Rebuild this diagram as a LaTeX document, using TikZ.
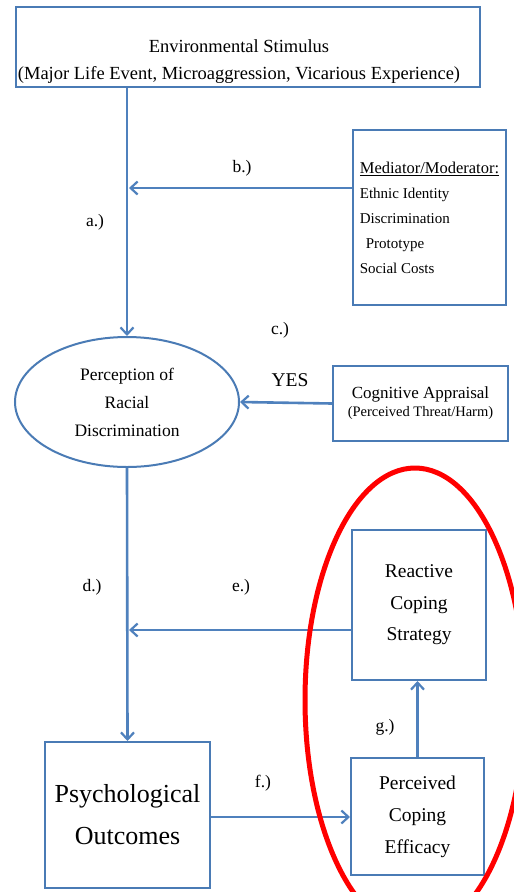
\documentclass[tikz,border=0pt]{standalone}
\usepackage{fontspec}
\setmainfont{Liberation Serif}
\usetikzlibrary{arrows.meta,shapes.geometric}
\definecolor{lineblue}{HTML}{4F81BD}
\definecolor{boxblue}{HTML}{4A7BB5}
\newcommand{\fs}[2]{\fontsize{#1}{#2}\selectfont}
\tikzset{
  boxnode/.style={draw=boxblue, line width=2pt, fill=white, inner sep=0pt, align=center},
  conn/.style={draw=lineblue, line width=2.6pt,
    -{Straight Barb[length=7pt,width=13pt,line width=2.2pt]}},
  lbl/.style={inner sep=0pt, font=\fs{17.5}{20}}
}
\begin{document}
\begin{tikzpicture}[x=1pt,y=-1pt]
  \useasboundingbox (0,0) rectangle (514,892);
  \clip (0,0) rectangle (514,892);
  \fill[white] (0,0) rectangle (514,892);

  % boxes
  \node[boxnode, minimum width=464pt, minimum height=80pt] (stim) at (248,47) {};
  \node[inner sep=0pt, align=center, font=\fs{18.5}{27}] (stimtxt) at (239,62)
    {Environmental Stimulus\\(Major Life Event, Microaggression, Vicarious Experience)};

  \node[boxnode, minimum width=153pt, minimum height=175pt, align=left,
        font=\fs{15}{25}] (med) at (429.5,217.5)
    {{\fs{16.5}{25}\underline{Mediator/Moderator:}}\\Ethnic Identity\\Discrimination\\
     \hspace*{6pt}Prototype\\Social Costs};

  \node[draw=boxblue, line width=2pt, ellipse, minimum width=224pt,
        minimum height=130pt, inner sep=0pt, align=center, font=\fs{17.5}{28}]
    (perc) at (127,402) {Perception of\\Racial\\Discrimination};

  \node[boxnode, minimum width=175pt, minimum height=75pt, align=center]
    (cog) at (420.5,403.5)
    {{\fs{17}{20}Cognitive Appraisal}\\[3pt]{\fs{14.5}{18}(Perceived Threat/Harm)}};

  \node[boxnode, minimum width=165pt, minimum height=146pt, font=\fs{26}{42}]
    (po) at (127.5,815) {Psychological\\Outcomes};

  \node[boxnode, minimum width=134pt, minimum height=150pt, font=\fs{19.5}{31.5}]
    (rcs) at (419,605) {Reactive\\Coping\\Strategy};

  \node[boxnode, minimum width=133pt, minimum height=117pt, font=\fs{19.5}{32}]
    (pce) at (417.5,816.5) {Perceived\\Coping\\Efficacy};

  % junction points on the vertical flow lines
  \coordinate (bj) at (129,188);
  \coordinate (ej) at (129,630);

  % connectors
  \draw[conn] (stim.south -| perc.north) -- (perc.north);
  \draw[conn] (med.west |- bj) -- (bj);
  \draw[conn] (cog.west) -- (perc.east);
  \draw[conn] (perc.south) -- (po.north);
  \draw[conn] (rcs.west |- ej) -- (ej);
  \draw[conn] (po.east |- 0,817) -- (pce.west |- 0,817);
  \draw[conn] (pce.north) -- (pce.north |- rcs.south);

  % path labels
  \node[lbl] (la) at (95,222) {a.)};
  \node[lbl] (lb) at (242,168) {b.)};
  \node[lbl] (lc) at (280,330) {c.)};
  \node[lbl, font=\fs{19.5}{22}] (lyes) at (290,380) {YES};
  \node[lbl] (ld) at (92,587) {d.)};
  \node[lbl] (le) at (241,587) {e.)};
  \node[lbl] (lf) at (263,783) {f.)};
  \node[lbl] (lg) at (385,727) {g.)};

  % highlight around the coping components
  \draw[red, line width=5pt] (415,700) ellipse [x radius=110pt, y radius=232pt];
\end{tikzpicture}
\end{document}
